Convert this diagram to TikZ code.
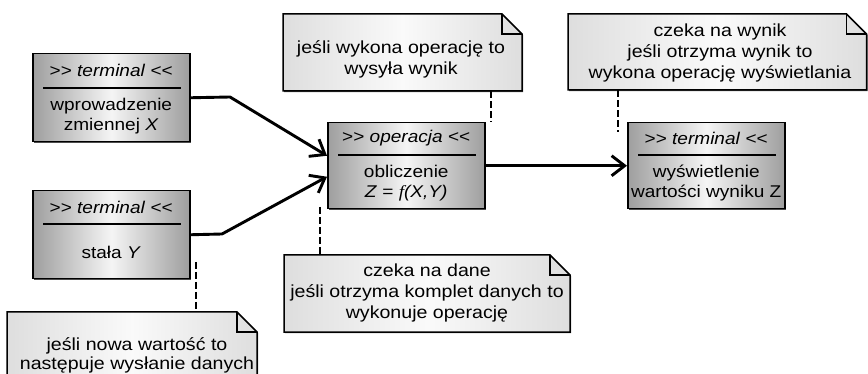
\documentclass[tikz,border=0pt]{standalone}
\usepackage{fontspec}
\setmainfont{Liberation Sans}[FakeStretch=1.12]
\newfontfamily\fnserif{Liberation Serif}[FakeStretch=1.12]
\usetikzlibrary{arrows.meta,calc,shadows}

% stereotype brackets, kept apart so they are not turned into guillemets
\newcommand\stopen{>\kern0pt>}
\newcommand\stclose{<\kern0pt<}
\newcommand\foldsz{20}

% folded-corner comment: name, left, top, right, bottom (top/bottom measured downwards)
\newcommand\foldnote[5]{%
  \path[notepaper] (#2,-#3) -- ({#4-\foldsz},-#3) -- (#4,{-(#3+\foldsz)}) -- (#4,-#5) -- (#2,-#5) -- cycle;
  \draw[notefoldline] ({#4-\foldsz},-#3) -- ({#4-\foldsz},{-(#3+\foldsz)}) -- (#4,{-(#3+\foldsz)});
  \node[notearea, minimum width={(#4-#2)*1pt}, minimum height={(#5-#3)*1pt}] (#1) at ({(#2+#4)/2},{-(#3+#5)/2}) {};
}

\begin{document}
\begin{tikzpicture}[x=1pt,y=1pt,
  umlbox/.style={draw=black, line width=1.5pt,
    left color=black!38, right color=black!38, middle color=black!4,
    minimum width=157pt, minimum height=#1, inner sep=0pt, anchor=north west,
    drop shadow={shadow xshift=1.2pt, shadow yshift=-1.2pt, fill=black!70, opacity=1}},
  sepline/.style={line width=1.3pt},
  stereo/.style={font=\fontsize{17}{20}\selectfont, inner sep=0pt},
  boxtext/.style={font=\fontsize{17}{19.5}\selectfont, align=center, inner sep=0pt},
  notepaper/.style={draw=black, line width=1.5pt, line join=miter,
    left color=black!13, right color=black!13, middle color=black!2,
    drop shadow={shadow xshift=1.2pt, shadow yshift=-1.2pt, fill=black!70, opacity=1}},
  notefoldline/.style={draw=black, line width=1.5pt, line join=miter},
  notearea/.style={inner sep=0pt, draw=none},
  notetext/.style={font=\fontsize{17.5}{21}\selectfont, align=center, inner sep=0pt},
  flow/.style={line width=2.9pt, line join=miter, -{Straight Barb[length=13pt, width=20pt]}},
  tether/.style={line width=1.3pt, dash pattern=on 7pt off 3pt},
]
\useasboundingbox (0,0) rectangle (868,-374);
\clip (0,0) rectangle (868,-374);

% ---- comments ----
\foldnote{n1}{283}{14}{522}{91}
\node[notetext] (n1t) at (401,-59.5) {jeśli wykona operację to\\wysyła wynik};

\foldnote{n2}{568}{14}{866.5}{90}
\node[notetext] (n2t) at (720,-52.5) {czeka na wynik\\jeśli otrzyma wynik to\\wykona operację wyświetlania};

\foldnote{n3}{284}{255}{570}{332}
\node[notetext] (n3t) at (427,-293) {czeka na dane\\jeśli otrzyma komplet danych to\\wykonuje operację};

\foldnote{n4}{7}{312}{257}{392}
\node[notetext, font=\fontsize{17.5}{18.5}\selectfont] (n4t) at (137,-355.5) {jeśli nowa wartość to\\następuje wysłanie danych};

% ---- components ----
\node[umlbox=88pt] (bx) at (32,-53) {};
\draw[sepline] ($(bx.north west)+(11pt,-35pt)$) -- ($(bx.north east)+(-10pt,-35pt)$);
\node[stereo] (bxs) at ($(bx.north)+(0pt,-17.5pt)$) {\stopen{} \textit{terminal} \stclose};
\node[boxtext] (bxb) at ($(bx.south)+(0pt,26.5pt)$) {wprowadzenie\\zmiennej \textit{X}};

\node[umlbox=88pt] (by) at (32,-190) {};
\draw[sepline] ($(by.north west)+(11pt,-34pt)$) -- ($(by.north east)+(-10pt,-34pt)$);
\node[stereo] (bys) at ($(by.north)+(0pt,-17pt)$) {\stopen{} \textit{terminal} \stclose};
\node[boxtext] (byb) at ($(by.south)+(0pt,27pt)$) {stała \textit{Y}};

\node[umlbox=86pt] (bop) at (327,-122) {};
\draw[sepline] ($(bop.north west)+(11pt,-33pt)$) -- ($(bop.north east)+(-10pt,-33pt)$);
\node[stereo] (bops) at ($(bop.north)+(0pt,-16.5pt)$) {\stopen{} \textit{operacja} \stclose};
\node[boxtext] (bopb) at ($(bop.south)+(0pt,26.5pt)$) {obliczenie\\\textit{Z} = {\fnserif\itshape f}\textit{(X,Y)}};

\node[umlbox=86pt] (bz) at (627,-122) {};
\draw[sepline] ($(bz.north west)+(11pt,-33pt)$) -- ($(bz.north east)+(-10pt,-33pt)$);
\node[stereo] (bzs) at ($(bz.north)+(0pt,-16.5pt)$) {\stopen{} \textit{terminal} \stclose};
\node[boxtext] (bzb) at ($(bz.south)+(0pt,26.5pt)$) {wyświetlenie\\wartości wyniku Z};

% ---- data flow ----
\coordinate (kx) at (230,-97);
\coordinate (ky) at (222,-234);
\draw[flow] (bx.east) -- (kx) -- ([yshift=10pt]bop.west);
\draw[flow] (by.east) -- (ky) -- ([yshift=-11pt]bop.west);
\draw[flow] (bop.east) -- (bz.west);

% ---- comment tethers ----
\coordinate (t1) at (491,-122);
\draw[tether] (n1.south -| t1) -- (t1);
\coordinate (t2) at (618,-132);
\draw[tether] (n2.south -| t2) -- (t2);
\coordinate (t3) at (320,-207);
\draw[tether] (t3) -- (t3 |- n3.north);
\coordinate (t4) at (196,-262);
\draw[tether] (t4) -- (t4 |- n4.north);
\end{tikzpicture}
\end{document}
